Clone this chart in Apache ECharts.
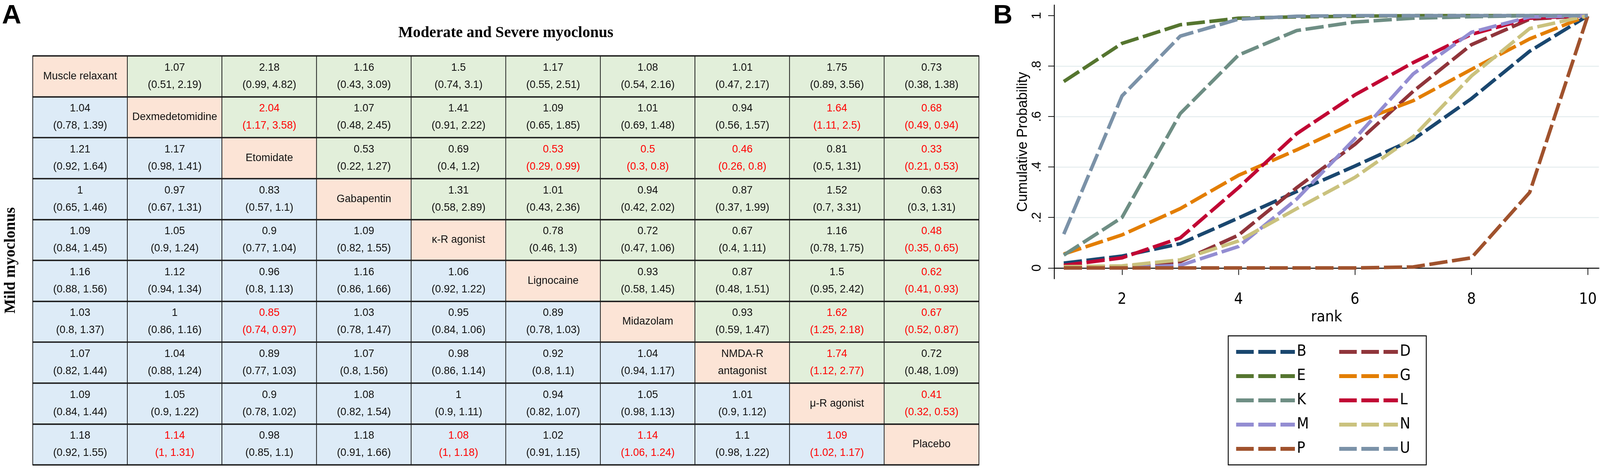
<!DOCTYPE html>
<html lang="en">
<head>
    <meta charset="UTF-8">
    <title>League table and cumulative ranking</title>
    <style>
        * { box-sizing: border-box; margin: 0; padding: 0; }
        html, body { width: 100%; height: 100%; overflow: hidden; background: #fff; }
        #chart { width: 100vw; height: 100vh; }
    </style>
    <script src="https://cdn.jsdelivr.net/npm/echarts@6/dist/echarts.min.js"></script>
</head>
<body>
    <div id="chart"></div>
    <script>
        // panel A: league table (upper = moderate/severe, lower = mild)
        const treatments = ['Muscle relaxant', 'Dexmedetomidine', 'Etomidate', 'Gabapentin', 'κ-R agonist',
            'Lignocaine', 'Midazolam', 'NMDA-R\nantagonist', 'μ-R agonist', 'Placebo'];

        // each cell: [estimate, lower, upper]; null on the diagonal
        const league = [
            [null, [1.07, 0.51, 2.19], [2.18, 0.99, 4.82], [1.16, 0.43, 3.09], [1.5, 0.74, 3.1], [1.17, 0.55, 2.51], [1.08, 0.54, 2.16], [1.01, 0.47, 2.17], [1.75, 0.89, 3.56], [0.73, 0.38, 1.38]],
            [[1.04, 0.78, 1.39], null, [2.04, 1.17, 3.58], [1.07, 0.48, 2.45], [1.41, 0.91, 2.22], [1.09, 0.65, 1.85], [1.01, 0.69, 1.48], [0.94, 0.56, 1.57], [1.64, 1.11, 2.5], [0.68, 0.49, 0.94]],
            [[1.21, 0.92, 1.64], [1.17, 0.98, 1.41], null, [0.53, 0.22, 1.27], [0.69, 0.4, 1.2], [0.53, 0.29, 0.99], [0.5, 0.3, 0.8], [0.46, 0.26, 0.8], [0.81, 0.5, 1.31], [0.33, 0.21, 0.53]],
            [[1, 0.65, 1.46], [0.97, 0.67, 1.31], [0.83, 0.57, 1.1], null, [1.31, 0.58, 2.89], [1.01, 0.43, 2.36], [0.94, 0.42, 2.02], [0.87, 0.37, 1.99], [1.52, 0.7, 3.31], [0.63, 0.3, 1.31]],
            [[1.09, 0.84, 1.45], [1.05, 0.9, 1.24], [0.9, 0.77, 1.04], [1.09, 0.82, 1.55], null, [0.78, 0.46, 1.3], [0.72, 0.47, 1.06], [0.67, 0.4, 1.11], [1.16, 0.78, 1.75], [0.48, 0.35, 0.65]],
            [[1.16, 0.88, 1.56], [1.12, 0.94, 1.34], [0.96, 0.8, 1.13], [1.16, 0.86, 1.66], [1.06, 0.92, 1.22], null, [0.93, 0.58, 1.45], [0.87, 0.48, 1.51], [1.5, 0.95, 2.42], [0.62, 0.41, 0.93]],
            [[1.03, 0.8, 1.37], [1, 0.86, 1.16], [0.85, 0.74, 0.97], [1.03, 0.78, 1.47], [0.95, 0.84, 1.06], [0.89, 0.78, 1.03], null, [0.93, 0.59, 1.47], [1.62, 1.25, 2.18], [0.67, 0.52, 0.87]],
            [[1.07, 0.82, 1.44], [1.04, 0.88, 1.24], [0.89, 0.77, 1.03], [1.07, 0.8, 1.56], [0.98, 0.86, 1.14], [0.92, 0.8, 1.1], [1.04, 0.94, 1.17], null, [1.74, 1.12, 2.77], [0.72, 0.48, 1.09]],
            [[1.09, 0.84, 1.44], [1.05, 0.9, 1.22], [0.9, 0.78, 1.02], [1.08, 0.82, 1.54], [1, 0.9, 1.11], [0.94, 0.82, 1.07], [1.05, 0.98, 1.13], [1.01, 0.9, 1.12], null, [0.41, 0.32, 0.53]],
            [[1.18, 0.92, 1.55], [1.14, 1, 1.31], [0.98, 0.85, 1.1], [1.18, 0.91, 1.66], [1.08, 1, 1.18], [1.02, 0.91, 1.15], [1.14, 1.06, 1.24], [1.1, 0.98, 1.22], [1.09, 1.02, 1.17], null]
        ];

        // panel B: cumulative ranking probabilities
        const ranks = [1, 2, 3, 4, 5, 6, 7, 8, 9, 10];
        const seriesNames = ['B', 'D', 'E', 'G', 'K', 'L', 'M', 'N', 'P', 'U'];
        const probB = [0.019, 0.047, 0.096, 0.198, 0.303, 0.404, 0.509, 0.671, 0.859, 1];
        const probD = [0.002, 0.005, 0.025, 0.13, 0.318, 0.49, 0.70, 0.885, 0.986, 1];
        const probE = [0.739, 0.89, 0.964, 0.99, 0.995, 0.998, 1, 1, 1, 1];
        const probG = [0.055, 0.131, 0.235, 0.367, 0.468, 0.575, 0.663, 0.787, 0.908, 1];
        const probK = [0.051, 0.2, 0.612, 0.844, 0.941, 0.975, 0.99, 0.996, 1, 1];
        const probL = [0.01, 0.04, 0.119, 0.318, 0.532, 0.686, 0.814, 0.926, 0.99, 1];
        const probM = [0, 0, 0.01, 0.085, 0.273, 0.513, 0.769, 0.934, 0.995, 1];
        const probN = [0.005, 0.008, 0.032, 0.107, 0.235, 0.359, 0.52, 0.761, 0.949, 1];
        const probP = [0, 0, 0, 0, 0, 0, 0.004, 0.04, 0.299, 1];
        const probU = [0.134, 0.682, 0.919, 0.986, 0.998, 1, 1, 1, 1, 1];
        const probTicks = [0, 0.2, 0.4, 0.6, 0.8, 1];
        const rankTicks = [2, 4, 6, 8, 10];

        const allProbs = [probB, probD, probE, probG, probK, probL, probM, probN, probP, probU];
        const lineColors = ['#1a476f', '#90353b', '#55752f', '#e37e00', '#6e8e84', '#c10534', '#938dd2', '#cac27e', '#a0522d', '#7b92a8'];

        const narrow = '"Liberation Sans Narrow", "DejaVu Sans Condensed", "Liberation Sans", sans-serif';

        // layout was measured on a 4549 x 1197 frame; scale to whatever the viewport is
        const el = document.getElementById('chart');
        const kx = el.clientWidth / 4549, ky = el.clientHeight / 1197;
        const k = Math.min(kx, ky);
        const X = v => v * kx, Y = v => v * ky, F = v => v * k;

        // build heatmap cells
        const cells = [];
        treatments.forEach((name, r) => {
            treatments.forEach((_, c) => {
                const cell = league[r][c];
                let text, color, bg;
                if (r === c) {
                    text = name; color = '#111'; bg = '#fce4d6';
                } else {
                    const sig = cell[1] >= 1 || cell[2] <= 1;
                    text = cell[0] + '\n(' + cell[1] + ', ' + cell[2] + ')';
                    color = sig ? '#ff0000' : '#111';
                    bg = c > r ? '#e2efda' : '#ddebf7';
                }
                cells.push({
                    value: [c, r, cell ? cell[0] : 1],
                    itemStyle: { color: bg },
                    label: { formatter: text, color: color }
                });
            });
        });

        const legendCommon = {
            orient: 'vertical', top: Y(859),
            itemWidth: X(167), itemHeight: F(14), itemGap: Y(18),
            lineStyle: { width: F(11), type: [X(50), X(13)] },
            textStyle: { fontFamily: narrow, fontSize: F(44), lineHeight: Y(44), color: '#000', width: X(70) }
        };

        const chart = echarts.init(el);
        chart.setOption({
            animation: false,
            title: [
                { text: 'A', left: 0, top: Y(2), textStyle: { fontFamily: 'Liberation Sans', fontWeight: 'bold', fontSize: F(76), color: '#000' } },
                { text: 'B', left: X(2818), top: Y(2), textStyle: { fontFamily: 'Liberation Sans', fontWeight: 'bold', fontSize: F(76), color: '#000' } }
            ],
            grid: [
                { left: X(91), top: Y(143), width: X(2692), height: Y(1046) },
                { left: X(2997), top: Y(13), right: X(3), bottom: Y(484) }
            ],
            xAxis: [
                {
                    gridIndex: 0, type: 'category', data: treatments, position: 'top',
                    axisLine: { show: false }, axisTick: { show: false }, axisLabel: { show: false },
                    name: 'Moderate and Severe myoclonus', nameLocation: 'middle', nameGap: Y(38),
                    nameTextStyle: { fontFamily: 'Liberation Serif', fontWeight: 'bold', fontSize: F(44), color: '#000' }
                },
                {
                    gridIndex: 1, type: 'value', min: 0.834, max: 10.19,
                    axisLine: { show: true, lineStyle: { color: '#000', width: F(2.5) } },
                    axisTick: { show: true, customValues: rankTicks, length: Y(18), lineStyle: { color: '#000', width: F(2) } },
                    axisLabel: { customValues: rankTicks, margin: Y(34), fontFamily: narrow, fontSize: F(44), color: '#000' },
                    splitLine: { show: false },
                    name: 'rank', nameLocation: 'middle', nameGap: Y(78),
                    nameTextStyle: { fontFamily: narrow, fontSize: F(44), color: '#000' }
                }
            ],
            yAxis: [
                {
                    gridIndex: 0, type: 'category', data: treatments, inverse: true, z: 3,
                    axisLine: { show: false }, axisTick: { show: false }, axisLabel: { show: false },
                    splitLine: { show: true, lineStyle: { color: '#1c1c1c', width: F(4) } },
                    name: 'Mild myoclonus', nameLocation: 'middle', nameRotate: 90, nameGap: X(40),
                    nameTextStyle: { fontFamily: 'Liberation Serif', fontWeight: 'bold', fontSize: F(44), color: '#000' }
                },
                {
                    gridIndex: 1, type: 'value', min: -0.043, max: 1.042, splitNumber: 5,
                    axisLine: { show: true, lineStyle: { color: '#000', width: F(2.5) } },
                    axisTick: { show: true, customValues: probTicks, length: X(17), lineStyle: { color: '#000', width: F(2) } },
                    axisLabel: {
                        customValues: probTicks, rotate: 90, margin: X(30),
                        fontFamily: 'Liberation Sans', fontSize: F(37), color: '#000',
                        formatter: v => (v === 0 || v === 1) ? String(v) : v.toFixed(1).replace('0.', '.')
                    },
                    splitLine: { show: true, showMinLine: false, showMaxLine: false, lineStyle: { color: '#e4ecee', width: F(3) } },
                    name: 'Cumulative Probability', nameLocation: 'middle', nameRotate: 90, nameGap: X(68),
                    nameTextStyle: { fontFamily: 'Liberation Sans', fontSize: F(40), color: '#000' }
                }
            ],
            legend: [
                Object.assign({}, legendCommon, {
                    data: ['B', 'E', 'K', 'M', 'P'],
                    left: X(3492), padding: [Y(19), X(4049 - 3492 - 17) - X(167 + 5 + 70), Y(19), X(17)],
                    borderColor: '#000', borderWidth: F(2.5)
                }),
                Object.assign({}, legendCommon, {
                    data: ['D', 'G', 'L', 'N', 'U'],
                    left: X(3802), padding: [Y(19), 0, Y(19), 0], z: 5
                })
            ],
            series: [
                {
                    type: 'heatmap', xAxisIndex: 0, yAxisIndex: 0, data: cells,
                    itemStyle: { borderColor: '#111', borderWidth: F(2) },
                    label: { show: true, fontFamily: 'Liberation Sans', fontSize: F(30), lineHeight: Y(44) },
                    emphasis: { disabled: true }
                }
            ].concat(seriesNames.map((name, i) => ({
                type: 'line', name: name, xAxisIndex: 1, yAxisIndex: 1,
                data: ranks.map((r, j) => [r, allProbs[i][j]]),
                symbol: 'none', color: lineColors[i],
                lineStyle: { width: F(10), type: [X(52), X(13)], cap: 'butt' }
            })))
        });
    </script>
</body>
</html>
